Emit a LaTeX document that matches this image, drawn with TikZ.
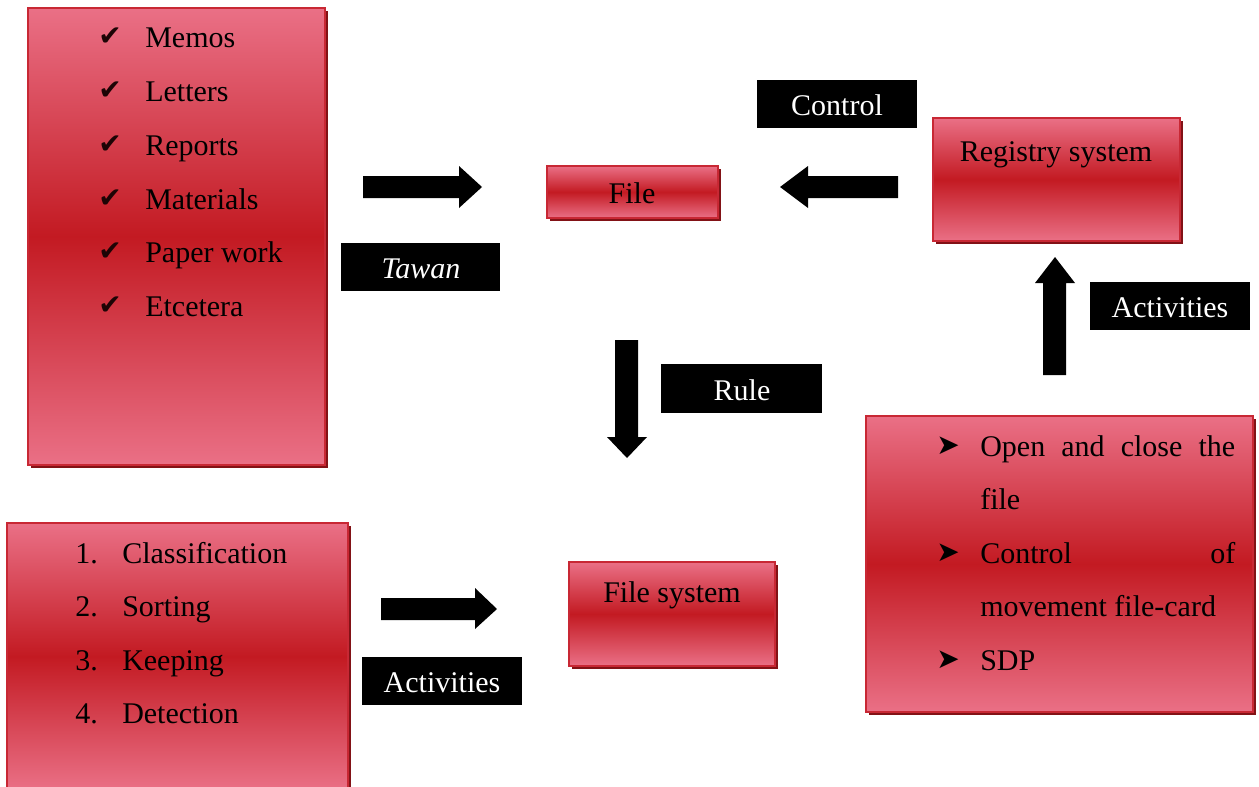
\documentclass[tikz,border=0pt]{standalone}
\usepackage{fontspec}
\setmainfont{Liberation Serif}
\newfontfamily\symfont{DejaVu Sans}
\usetikzlibrary{fit,shadows}

\definecolor{boxpink}{RGB}{234,112,134}
\definecolor{boxred}{RGB}{195,26,34}
\definecolor{boxedge}{RGB}{200,40,52}
\definecolor{boxshadow}{RGB}{130,18,22}

\tikzset{
  redbox/.style={draw=boxedge, line width=0.8pt, inner sep=0pt,
    top color=boxpink, bottom color=boxpink, middle color=boxred,
    drop shadow={shadow xshift=2.2pt, shadow yshift=-2.2pt,
      fill=boxshadow, opacity=1}},
  tagbox/.style={fill=black, inner sep=0pt},
  tagtxt/.style={anchor=base, inner sep=0pt, text=white,
    font=\fontsize{22.5}{27}\selectfont},
  txt/.style={anchor=base west, inner sep=0pt, text=black,
    font=\fontsize{22.5}{27}\selectfont},
  ctxt/.style={anchor=base, inner sep=0pt, text=black,
    font=\fontsize{22.5}{27}\selectfont},
  tick/.style={anchor=base west, inner sep=0pt, text=black!85!boxred,
    font=\symfont\fontsize{21}{24}\selectfont},
  bullet/.style={anchor=base west, inner sep=0pt, text=black,
    font=\symfont\fontsize{21}{24}\selectfont},
  blockarrow/.style={fill=black},
}

\begin{document}
\begin{tikzpicture}[x=0.75pt, y=-0.75pt]
\useasboundingbox (0,0) rectangle (1259,786);

% ---------- boxes ----------
\node[redbox, fit={(28,8) (325,465)}] (docs) {};
\node[redbox, fit={(547,166) (718,218)}] (file) {};
\node[redbox, fit={(933,118) (1180,241)}] (registry) {};
\node[redbox, fit={(866,416) (1253,712)}] (tasks) {};
\node[redbox, fit={(7,523) (348,790)}] (steps) {};
\node[redbox, fit={(569,562) (775,666)}] (filesys) {};

% ---------- box captions ----------
\node[ctxt] (filetxt) at (632,203) {File};
\node[ctxt] (regtxt) at (1056,161) {Registry system};
\node[ctxt] (fstxt) at (672,602) {File system};

% ---------- black tags ----------
\node[tagbox, fit={(757,80) (917,128)}] (control) {};
\node[tagtxt] (controltxt) at (837,115) {Control};
\node[tagbox, fit={(341,243) (500,291)}] (tawan) {};
\node[tagtxt] (tawantxt) at (421,278) {\itshape Tawan};
\node[tagbox, fit={(661,364) (822,413)}] (rule) {};
\node[tagtxt] (ruletxt) at (742,400) {Rule};
\node[tagbox, fit={(1090,282) (1250,330)}] (actR) {};
\node[tagtxt] (actRtxt) at (1170,317) {Activities};
\node[tagbox, fit={(362,657) (522,705)}] (actB) {};
\node[tagtxt] (actBtxt) at (442,692) {Activities};

% ---------- block arrows ----------
\fill[blockarrow] (363,176) -- (459,176) -- (459,166) -- (482,187)
  -- (459,208) -- (459,198) -- (363,198) -- cycle;
\fill[blockarrow] (898,176) -- (808,176) -- (808,166) -- (780,187)
  -- (808,208) -- (808,198) -- (898,198) -- cycle;
\fill[blockarrow] (615,340) -- (615,437) -- (607,437) -- (627,458)
  -- (647,437) -- (638,437) -- (638,340) -- cycle;
\fill[blockarrow] (1043,375) -- (1043,283) -- (1035,283) -- (1055,257)
  -- (1075,283) -- (1066,283) -- (1066,375) -- cycle;
\fill[blockarrow] (381,598) -- (475,598) -- (475,588) -- (497,609)
  -- (475,629) -- (475,620) -- (381,620) -- cycle;

% ---------- document types ----------
\node[tick] (t1) at (98,45) {✔};
\node[txt] (d1) at (145,47) {Memos};
\node[tick] (t2) at (98,99) {✔};
\node[txt] (d2) at (145,101) {Letters};
\node[tick] (t3) at (98,153) {✔};
\node[txt] (d3) at (145,155) {Reports};
\node[tick] (t4) at (98,207) {✔};
\node[txt] (d4) at (145,209) {Materials};
\node[tick] (t5) at (98,260) {✔};
\node[txt] (d5) at (145,262) {Paper work};
\node[tick] (t6) at (98,314) {✔};
\node[txt] (d6) at (145,316) {Etcetera};

% ---------- filing steps ----------
\node[txt] (n1) at (75,563) {1.};
\node[txt] (s1) at (122,563) {Classification};
\node[txt] (n2) at (75,616) {2.};
\node[txt] (s2) at (122,616) {Sorting};
\node[txt] (n3) at (75,670) {3.};
\node[txt] (s3) at (122,670) {Keeping};
\node[txt] (n4) at (75,723) {4.};
\node[txt] (s4) at (122,723) {Detection};

% ---------- registry activities ----------
\node[bullet] (b1) at (936,454) {➤};
\node[txt] (r1) at (980,456) {\makebox[191.25pt][s]{Open and close the}};
\node[txt] (r2) at (980,509) {file};
\node[bullet] (b2) at (936,561) {➤};
\node[txt] (r3) at (980,563) {\makebox[191.25pt][s]{Control of}};
\node[txt] (r4) at (980,616) {movement file-card};
\node[bullet] (b3) at (936,668) {➤};
\node[txt] (r5) at (980,670) {SDP};
\end{tikzpicture}
\end{document}
